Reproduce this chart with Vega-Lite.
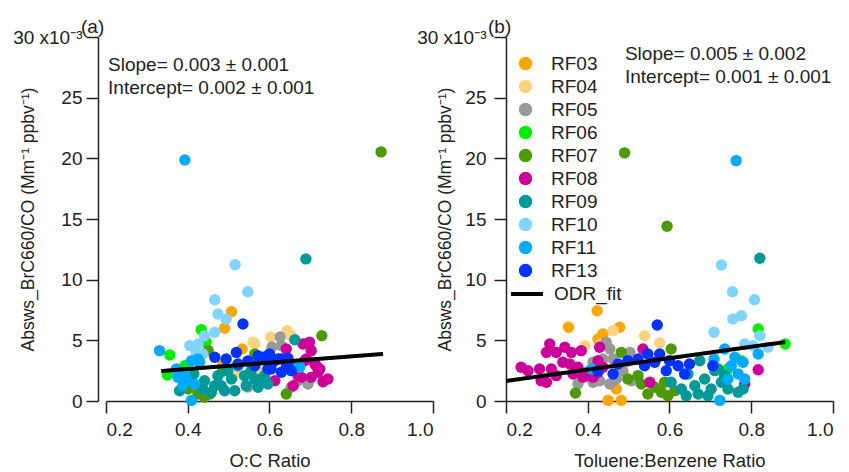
{
  "$schema": "https://vega.github.io/schema/vega-lite/v6.json",
  "autosize": {"type": "pad"},
  "padding": {"left": 12, "top": 18, "right": 5, "bottom": 5},
  "config": {
    "font": "Liberation Sans",
    "view": {"stroke": null},
    "axis": {
      "grid": false,
      "domainColor": "#222",
      "domainWidth": 1.5,
      "tickColor": "#222",
      "tickWidth": 1.5,
      "tickSize": 12,
      "labelColor": "#222",
      "labelFontSize": 19,
      "titleColor": "#222",
      "titleFontSize": 18.5,
      "titleFontWeight": "normal"
    },
    "legend": {"title": null, "labelFontSize": 19, "labelColor": "#222", "padding": 0},
    "title": {"fontSize": 19, "fontWeight": "normal", "color": "#222", "frame": "group"}
  },
  "datasets": {
    "pts": [
      {"panel": "a", "flight": "RF03", "x": 0.507, "y": 7.36},
      {"panel": "a", "flight": "RF03", "x": 0.490, "y": 5.99},
      {"panel": "a", "flight": "RF03", "x": 0.533, "y": 4.29},
      {"panel": "a", "flight": "RF03", "x": 0.486, "y": 3.05},
      {"panel": "a", "flight": "RF04", "x": 0.643, "y": 5.80},
      {"panel": "a", "flight": "RF04", "x": 0.603, "y": 5.28},
      {"panel": "a", "flight": "RF04", "x": 0.564, "y": 4.70},
      {"panel": "a", "flight": "RF04", "x": 0.653, "y": 5.38},
      {"panel": "a", "flight": "RF04", "x": 0.560, "y": 4.84},
      {"panel": "a", "flight": "RF04", "x": 0.572, "y": 2.47},
      {"panel": "a", "flight": "RF04", "x": 0.516, "y": 2.23},
      {"panel": "a", "flight": "RF05", "x": 0.626, "y": 5.28},
      {"panel": "a", "flight": "RF05", "x": 0.629, "y": 4.56},
      {"panel": "a", "flight": "RF05", "x": 0.606, "y": 4.45},
      {"panel": "a", "flight": "RF05", "x": 0.694, "y": 1.40},
      {"panel": "a", "flight": "RF05", "x": 0.670, "y": 1.67},
      {"panel": "a", "flight": "RF05", "x": 0.653, "y": 1.13},
      {"panel": "a", "flight": "RF05", "x": 0.547, "y": 1.15},
      {"panel": "a", "flight": "RF06", "x": 0.356, "y": 3.79},
      {"panel": "a", "flight": "RF06", "x": 0.433, "y": 5.88},
      {"panel": "a", "flight": "RF06", "x": 0.350, "y": 2.14},
      {"panel": "a", "flight": "RF06", "x": 0.445, "y": 4.84},
      {"panel": "a", "flight": "RF06", "x": 0.393, "y": 2.91},
      {"panel": "a", "flight": "RF07", "x": 0.873, "y": 20.53},
      {"panel": "a", "flight": "RF07", "x": 0.728, "y": 5.38},
      {"panel": "a", "flight": "RF07", "x": 0.450, "y": 4.15},
      {"panel": "a", "flight": "RF07", "x": 0.564, "y": 3.87},
      {"panel": "a", "flight": "RF07", "x": 0.641, "y": 0.58},
      {"panel": "a", "flight": "RF07", "x": 0.401, "y": 0.99},
      {"panel": "a", "flight": "RF07", "x": 0.425, "y": 0.58},
      {"panel": "a", "flight": "RF07", "x": 0.441, "y": 0.31},
      {"panel": "a", "flight": "RF07", "x": 0.454, "y": 0.58},
      {"panel": "a", "flight": "RF07", "x": 0.486, "y": 2.47},
      {"panel": "a", "flight": "RF08", "x": 0.641, "y": 4.29},
      {"panel": "a", "flight": "RF08", "x": 0.682, "y": 4.70},
      {"panel": "a", "flight": "RF08", "x": 0.698, "y": 4.84},
      {"panel": "a", "flight": "RF08", "x": 0.702, "y": 4.15},
      {"panel": "a", "flight": "RF08", "x": 0.690, "y": 3.46},
      {"panel": "a", "flight": "RF08", "x": 0.714, "y": 2.91},
      {"panel": "a", "flight": "RF08", "x": 0.719, "y": 2.37},
      {"panel": "a", "flight": "RF08", "x": 0.702, "y": 1.95},
      {"panel": "a", "flight": "RF08", "x": 0.670, "y": 2.09},
      {"panel": "a", "flight": "RF08", "x": 0.731, "y": 1.59},
      {"panel": "a", "flight": "RF08", "x": 0.658, "y": 1.26},
      {"panel": "a", "flight": "RF08", "x": 0.613, "y": 1.67},
      {"panel": "a", "flight": "RF08", "x": 0.641, "y": 2.78},
      {"panel": "a", "flight": "RF08", "x": 0.686, "y": 3.32},
      {"panel": "a", "flight": "RF08", "x": 0.711, "y": 3.05},
      {"panel": "a", "flight": "RF08", "x": 0.723, "y": 2.64},
      {"panel": "a", "flight": "RF08", "x": 0.678, "y": 1.95},
      {"panel": "a", "flight": "RF08", "x": 0.662, "y": 2.50},
      {"panel": "a", "flight": "RF08", "x": 0.743, "y": 1.81},
      {"panel": "a", "flight": "RF09", "x": 0.689, "y": 11.71},
      {"panel": "a", "flight": "RF09", "x": 0.662, "y": 5.05},
      {"panel": "a", "flight": "RF09", "x": 0.380, "y": 0.85},
      {"panel": "a", "flight": "RF09", "x": 0.441, "y": 1.67},
      {"panel": "a", "flight": "RF09", "x": 0.437, "y": 0.99},
      {"panel": "a", "flight": "RF09", "x": 0.474, "y": 2.09},
      {"panel": "a", "flight": "RF09", "x": 0.482, "y": 1.26},
      {"panel": "a", "flight": "RF09", "x": 0.507, "y": 1.81},
      {"panel": "a", "flight": "RF09", "x": 0.515, "y": 0.85},
      {"panel": "a", "flight": "RF09", "x": 0.539, "y": 2.09},
      {"panel": "a", "flight": "RF09", "x": 0.543, "y": 1.26},
      {"panel": "a", "flight": "RF09", "x": 0.564, "y": 1.81},
      {"panel": "a", "flight": "RF09", "x": 0.572, "y": 1.13},
      {"panel": "a", "flight": "RF09", "x": 0.588, "y": 2.09},
      {"panel": "a", "flight": "RF09", "x": 0.498, "y": 2.50},
      {"panel": "a", "flight": "RF09", "x": 0.523, "y": 2.91},
      {"panel": "a", "flight": "RF09", "x": 0.555, "y": 2.50},
      {"panel": "a", "flight": "RF09", "x": 0.466, "y": 1.26},
      {"panel": "a", "flight": "RF09", "x": 0.458, "y": 0.72},
      {"panel": "a", "flight": "RF09", "x": 0.490, "y": 0.85},
      {"panel": "a", "flight": "RF09", "x": 0.415, "y": 2.23},
      {"panel": "a", "flight": "RF09", "x": 0.579, "y": 1.81},
      {"panel": "a", "flight": "RF09", "x": 0.596, "y": 1.40},
      {"panel": "a", "flight": "RF10", "x": 0.516, "y": 11.24},
      {"panel": "a", "flight": "RF10", "x": 0.547, "y": 9.01},
      {"panel": "a", "flight": "RF10", "x": 0.466, "y": 8.35},
      {"panel": "a", "flight": "RF10", "x": 0.474, "y": 7.17},
      {"panel": "a", "flight": "RF10", "x": 0.494, "y": 6.76},
      {"panel": "a", "flight": "RF10", "x": 0.441, "y": 5.38},
      {"panel": "a", "flight": "RF10", "x": 0.466, "y": 5.66},
      {"panel": "a", "flight": "RF10", "x": 0.405, "y": 4.56},
      {"panel": "a", "flight": "RF10", "x": 0.425, "y": 4.70},
      {"panel": "a", "flight": "RF10", "x": 0.421, "y": 4.01},
      {"panel": "a", "flight": "RF10", "x": 0.437, "y": 3.87},
      {"panel": "a", "flight": "RF11", "x": 0.393, "y": 19.87},
      {"panel": "a", "flight": "RF11", "x": 0.331, "y": 4.15},
      {"panel": "a", "flight": "RF11", "x": 0.409, "y": 0.05},
      {"panel": "a", "flight": "RF11", "x": 0.409, "y": 3.32},
      {"panel": "a", "flight": "RF11", "x": 0.429, "y": 3.19},
      {"panel": "a", "flight": "RF11", "x": 0.376, "y": 1.95},
      {"panel": "a", "flight": "RF11", "x": 0.396, "y": 1.81},
      {"panel": "a", "flight": "RF11", "x": 0.417, "y": 1.40},
      {"panel": "a", "flight": "RF11", "x": 0.388, "y": 1.26},
      {"panel": "a", "flight": "RF11", "x": 0.372, "y": 2.64},
      {"panel": "a", "flight": "RF11", "x": 0.393, "y": 2.09},
      {"panel": "a", "flight": "RF11", "x": 0.425, "y": 3.46},
      {"panel": "a", "flight": "RF11", "x": 0.674, "y": 2.78},
      {"panel": "a", "flight": "RF11", "x": 0.670, "y": 2.91},
      {"panel": "a", "flight": "RF13", "x": 0.535, "y": 6.35},
      {"panel": "a", "flight": "RF13", "x": 0.466, "y": 3.60},
      {"panel": "a", "flight": "RF13", "x": 0.494, "y": 3.46},
      {"panel": "a", "flight": "RF13", "x": 0.519, "y": 4.01},
      {"panel": "a", "flight": "RF13", "x": 0.564, "y": 2.91},
      {"panel": "a", "flight": "RF13", "x": 0.596, "y": 3.73},
      {"panel": "a", "flight": "RF13", "x": 0.621, "y": 3.46},
      {"panel": "a", "flight": "RF13", "x": 0.645, "y": 3.52},
      {"panel": "a", "flight": "RF13", "x": 0.604, "y": 2.64},
      {"panel": "a", "flight": "RF13", "x": 0.653, "y": 2.50},
      {"panel": "a", "flight": "RF13", "x": 0.584, "y": 3.60},
      {"panel": "a", "flight": "RF13", "x": 0.600, "y": 3.87},
      {"panel": "a", "flight": "RF13", "x": 0.613, "y": 3.32},
      {"panel": "a", "flight": "RF13", "x": 0.629, "y": 3.46},
      {"panel": "a", "flight": "RF13", "x": 0.645, "y": 2.91},
      {"panel": "a", "flight": "RF13", "x": 0.596, "y": 2.64},
      {"panel": "a", "flight": "RF13", "x": 0.629, "y": 2.37},
      {"panel": "a", "flight": "RF13", "x": 0.547, "y": 3.30},
      {"panel": "a", "flight": "RF13", "x": 0.572, "y": 3.71},
      {"panel": "a", "flight": "RF13", "x": 0.523, "y": 3.05},
      {"panel": "b", "flight": "RF03", "x": 0.423, "y": 7.44},
      {"panel": "b", "flight": "RF03", "x": 0.353, "y": 6.08},
      {"panel": "b", "flight": "RF03", "x": 0.478, "y": 6.08},
      {"panel": "b", "flight": "RF03", "x": 0.437, "y": 5.52},
      {"panel": "b", "flight": "RF03", "x": 0.425, "y": 5.11},
      {"panel": "b", "flight": "RF03", "x": 0.450, "y": 0.05},
      {"panel": "b", "flight": "RF03", "x": 0.482, "y": 0.05},
      {"panel": "b", "flight": "RF03", "x": 0.470, "y": 0.99},
      {"panel": "b", "flight": "RF04", "x": 0.462, "y": 5.80},
      {"panel": "b", "flight": "RF04", "x": 0.539, "y": 5.38},
      {"panel": "b", "flight": "RF04", "x": 0.576, "y": 4.78},
      {"panel": "b", "flight": "RF04", "x": 0.393, "y": 4.56},
      {"panel": "b", "flight": "RF04", "x": 0.432, "y": 4.70},
      {"panel": "b", "flight": "RF05", "x": 0.445, "y": 4.84},
      {"panel": "b", "flight": "RF05", "x": 0.454, "y": 4.29},
      {"panel": "b", "flight": "RF05", "x": 0.437, "y": 3.46},
      {"panel": "b", "flight": "RF05", "x": 0.413, "y": 3.19},
      {"panel": "b", "flight": "RF05", "x": 0.396, "y": 2.37},
      {"panel": "b", "flight": "RF05", "x": 0.413, "y": 1.54},
      {"panel": "b", "flight": "RF05", "x": 0.429, "y": 1.67},
      {"panel": "b", "flight": "RF05", "x": 0.454, "y": 1.40},
      {"panel": "b", "flight": "RF05", "x": 0.470, "y": 1.81},
      {"panel": "b", "flight": "RF05", "x": 0.478, "y": 2.91},
      {"panel": "b", "flight": "RF05", "x": 0.462, "y": 3.46},
      {"panel": "b", "flight": "RF05", "x": 0.503, "y": 4.01},
      {"panel": "b", "flight": "RF05", "x": 0.507, "y": 1.67},
      {"panel": "b", "flight": "RF05", "x": 0.376, "y": 1.40},
      {"panel": "b", "flight": "RF05", "x": 0.486, "y": 2.47},
      {"panel": "b", "flight": "RF06", "x": 0.817, "y": 5.94},
      {"panel": "b", "flight": "RF06", "x": 0.883, "y": 4.70},
      {"panel": "b", "flight": "RF06", "x": 0.743, "y": 2.64},
      {"panel": "b", "flight": "RF06", "x": 0.776, "y": 3.32},
      {"panel": "b", "flight": "RF07", "x": 0.490, "y": 20.45},
      {"panel": "b", "flight": "RF07", "x": 0.594, "y": 14.40},
      {"panel": "b", "flight": "RF07", "x": 0.604, "y": 4.29},
      {"panel": "b", "flight": "RF07", "x": 0.370, "y": 0.66},
      {"panel": "b", "flight": "RF07", "x": 0.482, "y": 4.01},
      {"panel": "b", "flight": "RF07", "x": 0.531, "y": 1.40},
      {"panel": "b", "flight": "RF07", "x": 0.564, "y": 1.13},
      {"panel": "b", "flight": "RF07", "x": 0.547, "y": 0.58},
      {"panel": "b", "flight": "RF07", "x": 0.580, "y": 0.72},
      {"panel": "b", "flight": "RF07", "x": 0.596, "y": 0.44},
      {"panel": "b", "flight": "RF07", "x": 0.613, "y": 0.85},
      {"panel": "b", "flight": "RF07", "x": 0.588, "y": 1.54},
      {"panel": "b", "flight": "RF07", "x": 0.523, "y": 2.09},
      {"panel": "b", "flight": "RF07", "x": 0.498, "y": 1.81},
      {"panel": "b", "flight": "RF08", "x": 0.237, "y": 2.78},
      {"panel": "b", "flight": "RF08", "x": 0.254, "y": 2.50},
      {"panel": "b", "flight": "RF08", "x": 0.286, "y": 1.67},
      {"panel": "b", "flight": "RF08", "x": 0.299, "y": 1.54},
      {"panel": "b", "flight": "RF08", "x": 0.311, "y": 2.64},
      {"panel": "b", "flight": "RF08", "x": 0.307, "y": 4.70},
      {"panel": "b", "flight": "RF08", "x": 0.299, "y": 4.01},
      {"panel": "b", "flight": "RF08", "x": 0.323, "y": 4.01},
      {"panel": "b", "flight": "RF08", "x": 0.344, "y": 4.43},
      {"panel": "b", "flight": "RF08", "x": 0.360, "y": 4.01},
      {"panel": "b", "flight": "RF08", "x": 0.384, "y": 4.15},
      {"panel": "b", "flight": "RF08", "x": 0.356, "y": 3.05},
      {"panel": "b", "flight": "RF08", "x": 0.339, "y": 3.19},
      {"panel": "b", "flight": "RF08", "x": 0.376, "y": 2.78},
      {"panel": "b", "flight": "RF08", "x": 0.364, "y": 2.23},
      {"panel": "b", "flight": "RF08", "x": 0.429, "y": 4.43},
      {"panel": "b", "flight": "RF08", "x": 0.425, "y": 3.32},
      {"panel": "b", "flight": "RF08", "x": 0.437, "y": 2.78},
      {"panel": "b", "flight": "RF08", "x": 0.388, "y": 1.95},
      {"panel": "b", "flight": "RF08", "x": 0.396, "y": 2.09},
      {"panel": "b", "flight": "RF08", "x": 0.413, "y": 1.95},
      {"panel": "b", "flight": "RF08", "x": 0.425, "y": 2.37},
      {"panel": "b", "flight": "RF08", "x": 0.282, "y": 2.64},
      {"panel": "b", "flight": "RF08", "x": 0.323, "y": 2.09},
      {"panel": "b", "flight": "RF08", "x": 0.552, "y": 1.54},
      {"panel": "b", "flight": "RF08", "x": 0.535, "y": 4.29},
      {"panel": "b", "flight": "RF08", "x": 0.817, "y": 2.58},
      {"panel": "b", "flight": "RF08", "x": 0.784, "y": 1.40},
      {"panel": "b", "flight": "RF09", "x": 0.821, "y": 11.76},
      {"panel": "b", "flight": "RF09", "x": 0.604, "y": 1.54},
      {"panel": "b", "flight": "RF09", "x": 0.629, "y": 0.99},
      {"panel": "b", "flight": "RF09", "x": 0.662, "y": 1.26},
      {"panel": "b", "flight": "RF09", "x": 0.674, "y": 3.32},
      {"panel": "b", "flight": "RF09", "x": 0.686, "y": 1.81},
      {"panel": "b", "flight": "RF09", "x": 0.702, "y": 0.99},
      {"panel": "b", "flight": "RF09", "x": 0.727, "y": 1.54},
      {"panel": "b", "flight": "RF09", "x": 0.743, "y": 0.99},
      {"panel": "b", "flight": "RF09", "x": 0.768, "y": 0.72},
      {"panel": "b", "flight": "RF09", "x": 0.735, "y": 2.09},
      {"panel": "b", "flight": "RF09", "x": 0.711, "y": 2.50},
      {"panel": "b", "flight": "RF09", "x": 0.670, "y": 0.58},
      {"panel": "b", "flight": "RF09", "x": 0.641, "y": 0.44},
      {"panel": "b", "flight": "RF09", "x": 0.694, "y": 0.44},
      {"panel": "b", "flight": "RF09", "x": 0.780, "y": 0.99},
      {"panel": "b", "flight": "RF09", "x": 0.645, "y": 2.23},
      {"panel": "b", "flight": "RF09", "x": 0.719, "y": 2.64},
      {"panel": "b", "flight": "RF10", "x": 0.727, "y": 11.21},
      {"panel": "b", "flight": "RF10", "x": 0.754, "y": 9.01},
      {"panel": "b", "flight": "RF10", "x": 0.808, "y": 8.35},
      {"panel": "b", "flight": "RF10", "x": 0.755, "y": 6.76},
      {"panel": "b", "flight": "RF10", "x": 0.776, "y": 7.03},
      {"panel": "b", "flight": "RF10", "x": 0.709, "y": 5.66},
      {"panel": "b", "flight": "RF10", "x": 0.821, "y": 5.38},
      {"panel": "b", "flight": "RF10", "x": 0.841, "y": 4.43},
      {"panel": "b", "flight": "RF10", "x": 0.784, "y": 4.70},
      {"panel": "b", "flight": "RF10", "x": 0.804, "y": 4.56},
      {"panel": "b", "flight": "RF11", "x": 0.763, "y": 19.81},
      {"panel": "b", "flight": "RF11", "x": 0.723, "y": 0.05},
      {"panel": "b", "flight": "RF11", "x": 0.735, "y": 4.29},
      {"panel": "b", "flight": "RF11", "x": 0.760, "y": 3.60},
      {"panel": "b", "flight": "RF11", "x": 0.780, "y": 3.19},
      {"panel": "b", "flight": "RF11", "x": 0.751, "y": 2.91},
      {"panel": "b", "flight": "RF11", "x": 0.768, "y": 2.23},
      {"panel": "b", "flight": "RF11", "x": 0.784, "y": 1.81},
      {"panel": "b", "flight": "RF11", "x": 0.743, "y": 1.81},
      {"panel": "b", "flight": "RF11", "x": 0.409, "y": 2.64},
      {"panel": "b", "flight": "RF11", "x": 0.817, "y": 3.87},
      {"panel": "b", "flight": "RF11", "x": 0.709, "y": 3.46},
      {"panel": "b", "flight": "RF13", "x": 0.570, "y": 6.27},
      {"panel": "b", "flight": "RF13", "x": 0.462, "y": 2.23},
      {"panel": "b", "flight": "RF13", "x": 0.498, "y": 3.32},
      {"panel": "b", "flight": "RF13", "x": 0.523, "y": 3.46},
      {"panel": "b", "flight": "RF13", "x": 0.547, "y": 3.87},
      {"panel": "b", "flight": "RF13", "x": 0.576, "y": 3.87},
      {"panel": "b", "flight": "RF13", "x": 0.600, "y": 3.32},
      {"panel": "b", "flight": "RF13", "x": 0.564, "y": 3.19},
      {"panel": "b", "flight": "RF13", "x": 0.621, "y": 2.91},
      {"panel": "b", "flight": "RF13", "x": 0.649, "y": 3.05},
      {"panel": "b", "flight": "RF13", "x": 0.637, "y": 2.23},
      {"panel": "b", "flight": "RF13", "x": 0.592, "y": 2.50},
      {"panel": "b", "flight": "RF13", "x": 0.539, "y": 2.91},
      {"panel": "b", "flight": "RF13", "x": 0.706, "y": 2.91},
      {"panel": "b", "flight": "RF13", "x": 0.474, "y": 3.05},
      {"panel": "b", "flight": "RF13", "x": 0.425, "y": 2.47}
    ],
    "fit": [
      {"panel": "a", "series": "ODR_fit", "x": 0.335, "y": 2.47},
      {"panel": "a", "series": "ODR_fit", "x": 0.878, "y": 3.88},
      {"panel": "b", "series": "ODR_fit", "x": 0.2, "y": 1.65},
      {"panel": "b", "series": "ODR_fit", "x": 0.883, "y": 4.86}
    ]
  },
  "bounds": "flush",
  "spacing": 73,
  "hconcat": [
    {
      "width": 327,
      "height": 364,
      "title": {"text": "(a)", "anchor": "start", "dx": -25, "offset": -9},
      "layer": [
        {
          "data": {"name": "pts"},
          "transform": [{"filter": "datum.panel === 'a'"}],
          "mark": {"type": "point", "filled": true, "size": 130, "opacity": 1},
          "encoding": {
            "x": {"field": "x", "type": "quantitative", "scale": {"domain": [0.2, 1.0], "nice": false, "zero": false},
                  "axis": {"values": [0.2, 0.4, 0.6, 0.8, 1.0], "format": ".1f", "title": "O:C Ratio", "labelPadding": 7, "titlePadding": 12}},
            "y": {"field": "y", "type": "quantitative", "scale": {"domain": [0, 30], "nice": false},
                  "axis": {"values": [0, 5, 10, 15, 20, 25, 30], "offset": 8, "labelPadding": 4,
                           "labelExpr": "datum.value === 30 ? '30 x10⁻³' : datum.label",
                           "title": "Absws_BrC660/CO (Mm⁻¹ ppbv⁻¹)", "titleFontSize": 17.5, "titleX": -70, "titleBaseline": "middle"}},
            "color": {"field": "flight", "type": "nominal",
                      "scale": {"domain": ["RF03", "RF04", "RF05", "RF06", "RF07", "RF08", "RF09", "RF10", "RF11", "RF13"],
                                "range": ["#FFA500", "#FFD27F", "#999999", "#00EE00", "#4E9A06", "#CC0099", "#009999", "#80D4FF", "#00AAFF", "#0033FF"]},
                      "legend": {"orient": "none", "legendX": 410, "legendY": 17, "symbolType": "circle", "symbolSize": 180, "labelOffset": 16, "rowPadding": 3}}
          }
        },
        {
          "data": {"name": "fit"},
          "transform": [{"filter": "datum.panel === 'a'"}],
          "mark": {"type": "line", "color": "black", "strokeWidth": 4},
          "encoding": {
            "x": {"field": "x", "type": "quantitative"},
            "y": {"field": "y", "type": "quantitative"},
            "strokeDash": {"field": "series", "type": "nominal",
                           "scale": {"domain": ["ODR_fit"], "range": [[1, 0]]},
                           "legend": {"orient": "none", "legendX": 403, "legendY": 239, "symbolType": "stroke", "symbolSize": 1024, "symbolStrokeWidth": 4, "symbolStrokeColor": "black", "labelOffset": 9}}
          }
        },
        {
          "data": {"values": [{}]},
          "mark": {"type": "text", "text": ["Slope= 0.003 ± 0.001", " Intercept= 0.002 ± 0.001"], "align": "left", "baseline": "middle", "fontSize": 19, "lineHeight": 22.5, "color": "#222"},
          "encoding": {
            "x": {"datum": 0.205, "type": "quantitative"},
            "y": {"datum": 27.68, "type": "quantitative"}
          }
        }
      ]
    },
    {
      "width": 327,
      "height": 364,
      "title": {"text": "(b)", "anchor": "start", "dx": -18, "offset": -9},
      "layer": [
        {
          "data": {"name": "pts"},
          "transform": [{"filter": "datum.panel === 'b'"}],
          "mark": {"type": "point", "filled": true, "size": 130, "opacity": 1},
          "encoding": {
            "x": {"field": "x", "type": "quantitative", "scale": {"domain": [0.2, 1.0], "nice": false, "zero": false},
                  "axis": {"values": [0.2, 0.4, 0.6, 0.8, 1.0], "format": ".1f", "title": "Toluene:Benzene Ratio", "labelPadding": 7, "titlePadding": 12}},
            "y": {"field": "y", "type": "quantitative", "scale": {"domain": [0, 30], "nice": false},
                  "axis": {"values": [0, 5, 10, 15, 20, 25, 30], "offset": 0, "labelPadding": 8,
                           "labelExpr": "datum.value === 30 ? '30 x10⁻³' : datum.label",
                           "title": "Absws_BrC660/CO (Mm⁻¹ ppbv⁻¹)", "titleFontSize": 17.5, "titleX": -61, "titleBaseline": "middle"}},
            "color": {"field": "flight", "type": "nominal",
                      "scale": {"domain": ["RF03", "RF04", "RF05", "RF06", "RF07", "RF08", "RF09", "RF10", "RF11", "RF13"],
                                "range": ["#FFA500", "#FFD27F", "#999999", "#00EE00", "#4E9A06", "#CC0099", "#009999", "#80D4FF", "#00AAFF", "#0033FF"]},
                      "legend": {"orient": "none", "legendX": 410, "legendY": 17, "symbolType": "circle", "symbolSize": 180, "labelOffset": 16, "rowPadding": 3}}
          }
        },
        {
          "data": {"name": "fit"},
          "transform": [{"filter": "datum.panel === 'b'"}],
          "mark": {"type": "line", "color": "black", "strokeWidth": 4},
          "encoding": {
            "x": {"field": "x", "type": "quantitative"},
            "y": {"field": "y", "type": "quantitative"},
            "strokeDash": {"field": "series", "type": "nominal",
                           "scale": {"domain": ["ODR_fit"], "range": [[1, 0]]},
                           "legend": {"orient": "none", "legendX": 403, "legendY": 239, "symbolType": "stroke", "symbolSize": 1024, "symbolStrokeWidth": 4, "symbolStrokeColor": "black", "labelOffset": 9}}
          }
        },
        {
          "data": {"values": [{}]},
          "mark": {"type": "text", "text": ["Slope= 0.005 ± 0.002", " Intercept= 0.001 ± 0.001"], "align": "left", "baseline": "middle", "fontSize": 19, "lineHeight": 22.5, "color": "#222"},
          "encoding": {
            "x": {"datum": 0.491, "type": "quantitative"},
            "y": {"datum": 28.57, "type": "quantitative"}
          }
        }
      ]
    }
  ]
}
